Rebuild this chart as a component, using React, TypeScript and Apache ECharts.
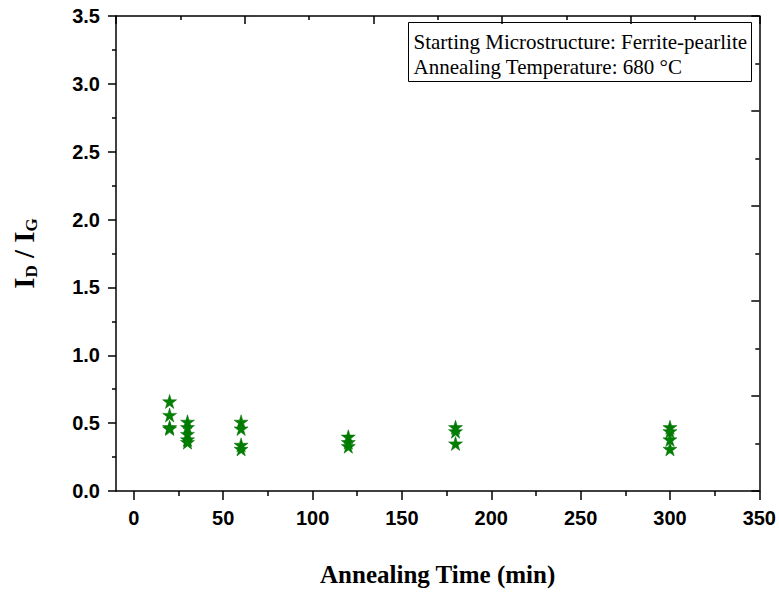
import React, { useEffect, useRef } from "react";
import * as echarts from "echarts";

const annealTimes = [20, 20, 20, 20, 30, 30, 30, 30, 30, 60, 60, 60, 60, 120, 120, 120, 180, 180, 180, 300, 300, 300, 300];
const idIgRatios = [0.66, 0.56, 0.47, 0.46, 0.51, 0.47, 0.42, 0.38, 0.36, 0.51, 0.46, 0.34, 0.31, 0.4, 0.36, 0.33, 0.47, 0.44, 0.35, 0.47, 0.44, 0.38, 0.31];
const xTickValues = [0, 50, 100, 150, 200, 250, 300, 350];
const xMinorValues = [25, 75, 125, 175, 225, 275, 325];
const infoLines = ["Starting Microstructure: Ferrite-pearlite", "Annealing Temperature: 680 °C"];

const STAR = "path://M50,0 L61,35 L98,35 L68,57 L79,91 L50,70 L21,91 L32,57 L2,35 L39,35 Z";

export default function App() {
  const ref = useRef<HTMLDivElement>(null);
  useEffect(() => {
    const chart = echarts.init(ref.current!, null, { renderer: "svg" });
    const lineStyle = { color: "#000", width: 1.5 };
    const serif = "'Liberation Serif', 'Times New Roman', serif";
    chart.setOption({
      animation: false,
      backgroundColor: "#fff",
      grid: { left: 116, right: 19, top: 16, bottom: 100, containLabel: false },
      xAxis: [
        {
          type: "value",
          min: -10,
          max: 350,
          position: "bottom",
          axisLine: { show: true, lineStyle, onZero: false },
          axisTick: { show: true, inside: false, length: 9, lineStyle, customValues: xTickValues },
          axisLabel: { color: "#000", fontFamily: "Liberation Sans", fontWeight: "bold", fontSize: 20, margin: 17, customValues: xTickValues },
          splitLine: { show: false },
          name: "Annealing Time (min)",
          nameLocation: "middle",
          nameGap: 71,
          nameTextStyle: { color: "#000", fontFamily: serif, fontWeight: "bold", fontSize: 25 },
        },
        {
          type: "value",
          min: -10,
          max: 350,
          position: "bottom",
          axisLine: { show: false, onZero: false },
          axisTick: { show: true, inside: false, length: 5, lineStyle, customValues: xMinorValues },
          axisLabel: { show: false },
          splitLine: { show: false },
        },
        {
          type: "value",
          min: 0,
          max: 5,
          interval: 1,
          position: "top",
          axisLine: { show: true, lineStyle, onZero: false },
          axisTick: { show: true, inside: true, length: 8, lineStyle },
          minorTick: { show: true, splitNumber: 2, length: 4, lineStyle },
          axisLabel: { show: false },
          splitLine: { show: false },
        },
      ],
      yAxis: [
        {
          type: "value",
          min: 0,
          max: 3.5,
          interval: 0.5,
          position: "left",
          axisLine: { show: true, lineStyle, onZero: false },
          axisTick: { show: true, inside: false, length: 8, lineStyle },
          minorTick: { show: true, splitNumber: 2, length: 4, lineStyle },
          axisLabel: { color: "#000", fontFamily: "Liberation Sans", fontWeight: "bold", fontSize: 20, margin: 16, formatter: (v: number) => v.toFixed(1) },
          splitLine: { show: false },
          name: "{a|I}{s|D}{a| / I}{s|G}",
          nameLocation: "middle",
          nameGap: 76,
          nameRotate: 90,
          nameTextStyle: {
            rich: {
              a: { fontFamily: serif, fontWeight: "bold", fontSize: 29, color: "#000", lineHeight: 32 },
              s: { fontFamily: serif, fontWeight: "bold", fontSize: 17, color: "#000", verticalAlign: "bottom", lineHeight: 18, padding: [12, 0, 0, 0] },
            },
          },
        },
        {
          type: "value",
          min: 0,
          max: 5,
          interval: 1,
          position: "right",
          axisLine: { show: true, lineStyle, onZero: false },
          axisTick: { show: true, inside: true, length: 8, lineStyle },
          minorTick: { show: true, splitNumber: 2, length: 4, lineStyle },
          axisLabel: { show: false },
          splitLine: { show: false },
        },
      ],
      series: [
        {
          type: "scatter",
          xAxisIndex: 0,
          yAxisIndex: 0,
          symbol: STAR,
          symbolSize: 14,
          itemStyle: { color: "#008000", borderColor: "#006a00", borderWidth: 0.5, opacity: 1 },
          data: annealTimes.map((t, i) => [t, idIgRatios[i]]),
        },
      ],
      graphic: [
        {
          type: "group",
          left: 408,
          top: 22,
          children: [
            { type: "rect", shape: { x: 0, y: 0, width: 343, height: 59 }, style: { fill: "#fff", stroke: "#000", lineWidth: 1 } },
            { type: "text", x: 5, y: 9, style: { text: infoLines[0], fill: "#000", font: "21px " + serif } },
            { type: "text", x: 5, y: 34, style: { text: infoLines[1], fill: "#000", font: "21px " + serif } },
          ],
        },
      ],
    });
    return () => chart.dispose();
  }, []);
  return <div ref={ref} style={{ width: 779, height: 592, position: "absolute", left: 0, top: 0 }} />;
}
